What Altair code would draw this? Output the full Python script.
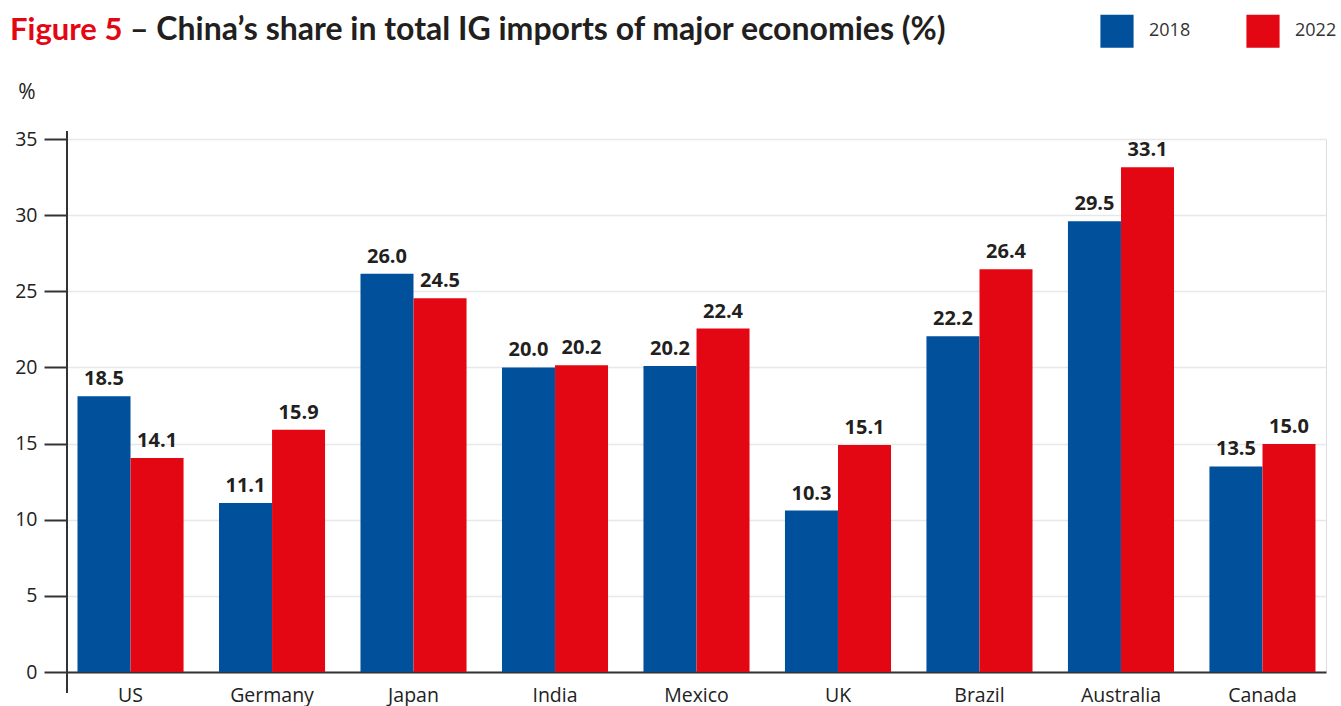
import altair as alt
import pandas as pd

countries = ["US", "Germany", "Japan", "India", "Mexico", "UK", "Brazil", "Australia", "Canada"]
years = ["2018", "2022"]
values_2018 = [18.1, 11.1, 26.15, 20.0, 20.1, 10.6, 22.05, 29.6, 13.5]
values_2022 = [14.05, 15.9, 24.55, 20.15, 22.55, 14.9, 26.45, 33.15, 14.97]
labels_2018 = ["18.5", "11.1", "26.0", "20.0", "20.2", "10.3", "22.2", "29.5", "13.5"]
labels_2022 = ["14.1", "15.9", "24.5", "20.2", "22.4", "15.1", "26.4", "33.1", "15.0"]
colors = ["#00509b", "#e30613"]
y_ticks = [0, 5, 10, 15, 20, 25, 30, 35]

rows = []
for c, v, l in zip(countries, values_2018, labels_2018):
    rows.append({"country": c, "year": "2018", "value": v, "label": l})
for c, v, l in zip(countries, values_2022, labels_2022):
    rows.append({"country": c, "year": "2022", "value": v, "label": l})
df = pd.DataFrame(rows)

W, H = 1259, 533
FONT = "Open Sans"

x_enc = alt.X("country:N", sort=countries,
              scale=alt.Scale(paddingInner=0.25, paddingOuter=0.074),
              axis=alt.Axis(title=None, labelAngle=0, labelFontSize=19.5, labelFont=FONT,
                            labelColor="#222222", ticks=False, labelPadding=14,
                            domainColor="#333333", domainWidth=2))
xoff = alt.XOffset("year:N", sort=years, scale=alt.Scale(paddingInner=0, paddingOuter=0))
y_enc = alt.Y("value:Q", scale=alt.Scale(domain=[0, 35], nice=False),
              axis=alt.Axis(title=None, values=y_ticks, labelFontSize=19.5, labelFont=FONT,
                            labelColor="#222222", tickSize=23, tickColor="#333333",
                            tickWidth=2, labelPadding=7, domain=False,
                            gridColor="#e8e8e8", gridWidth=1.5))

base = alt.Chart(df)

bars = base.mark_bar(size=53).encode(
    x=x_enc,
    xOffset=xoff,
    y=y_enc,
    color=alt.Color("year:N", sort=years,
                    scale=alt.Scale(domain=years, range=colors),
                    legend=alt.Legend(title=None, orient="none", legendX=1033, legendY=-125,
                                      direction="horizontal", symbolType="square",
                                      symbolSize=1100, symbolStrokeWidth=0, symbolOpacity=1,
                                      labelFontSize=18, labelFont=FONT, labelColor="#333333",
                                      labelOffset=15, columnPadding=55, padding=0)),
)

texts = base.mark_text(fontSize=20, fontWeight="bold", font=FONT, color="#231f20",
                       baseline="alphabetic", dy=-11).encode(
    x=alt.X("country:N", sort=countries),
    xOffset=alt.XOffset("year:N", sort=years),
    y="value:Q",
    text="label:N",
)

yline = alt.Chart(pd.DataFrame({"a": [0]})).mark_rule(color="#333333", strokeWidth=2).encode(
    x=alt.value(0), y=alt.value(-8), y2=alt.value(H + 21))

title_df = pd.DataFrame({"t1": ["Figure 5"], "t2": ["– China’s share in total IG imports of major economies (%)"],
                         "pct": ["%"]})
t1 = alt.Chart(title_df).mark_text(font="Lato", fontSize=31, fontWeight="bold", color="#e30613",
                                   align="left", baseline="alphabetic").encode(
    x=alt.value(-57), y=alt.value(-99), text="t1:N")
t2 = alt.Chart(title_df).mark_text(font="Lato", fontSize=32, fontWeight="bold", color="#231f20",
                                   align="left", baseline="alphabetic").encode(
    x=alt.value(63), y=alt.value(-99), text="t2:N")
pct = alt.Chart(title_df).mark_text(font=FONT, fontSize=21, color="#222222",
                                    align="center", baseline="middle").encode(
    x=alt.value(-40), y=alt.value(-46), text="pct:N")

chart = alt.layer(bars, texts, yline, t1, t2, pct).resolve_scale(xOffset="shared").properties(
    width=W, height=H,
    autosize=alt.AutoSizeParams(type="none"),
    padding={"left": 67, "top": 139, "right": 15, "bottom": 34},
).configure_view(stroke=None).configure(background="white")

chart.save("out.html", embed_options={"renderer": "svg", "actions": False})
